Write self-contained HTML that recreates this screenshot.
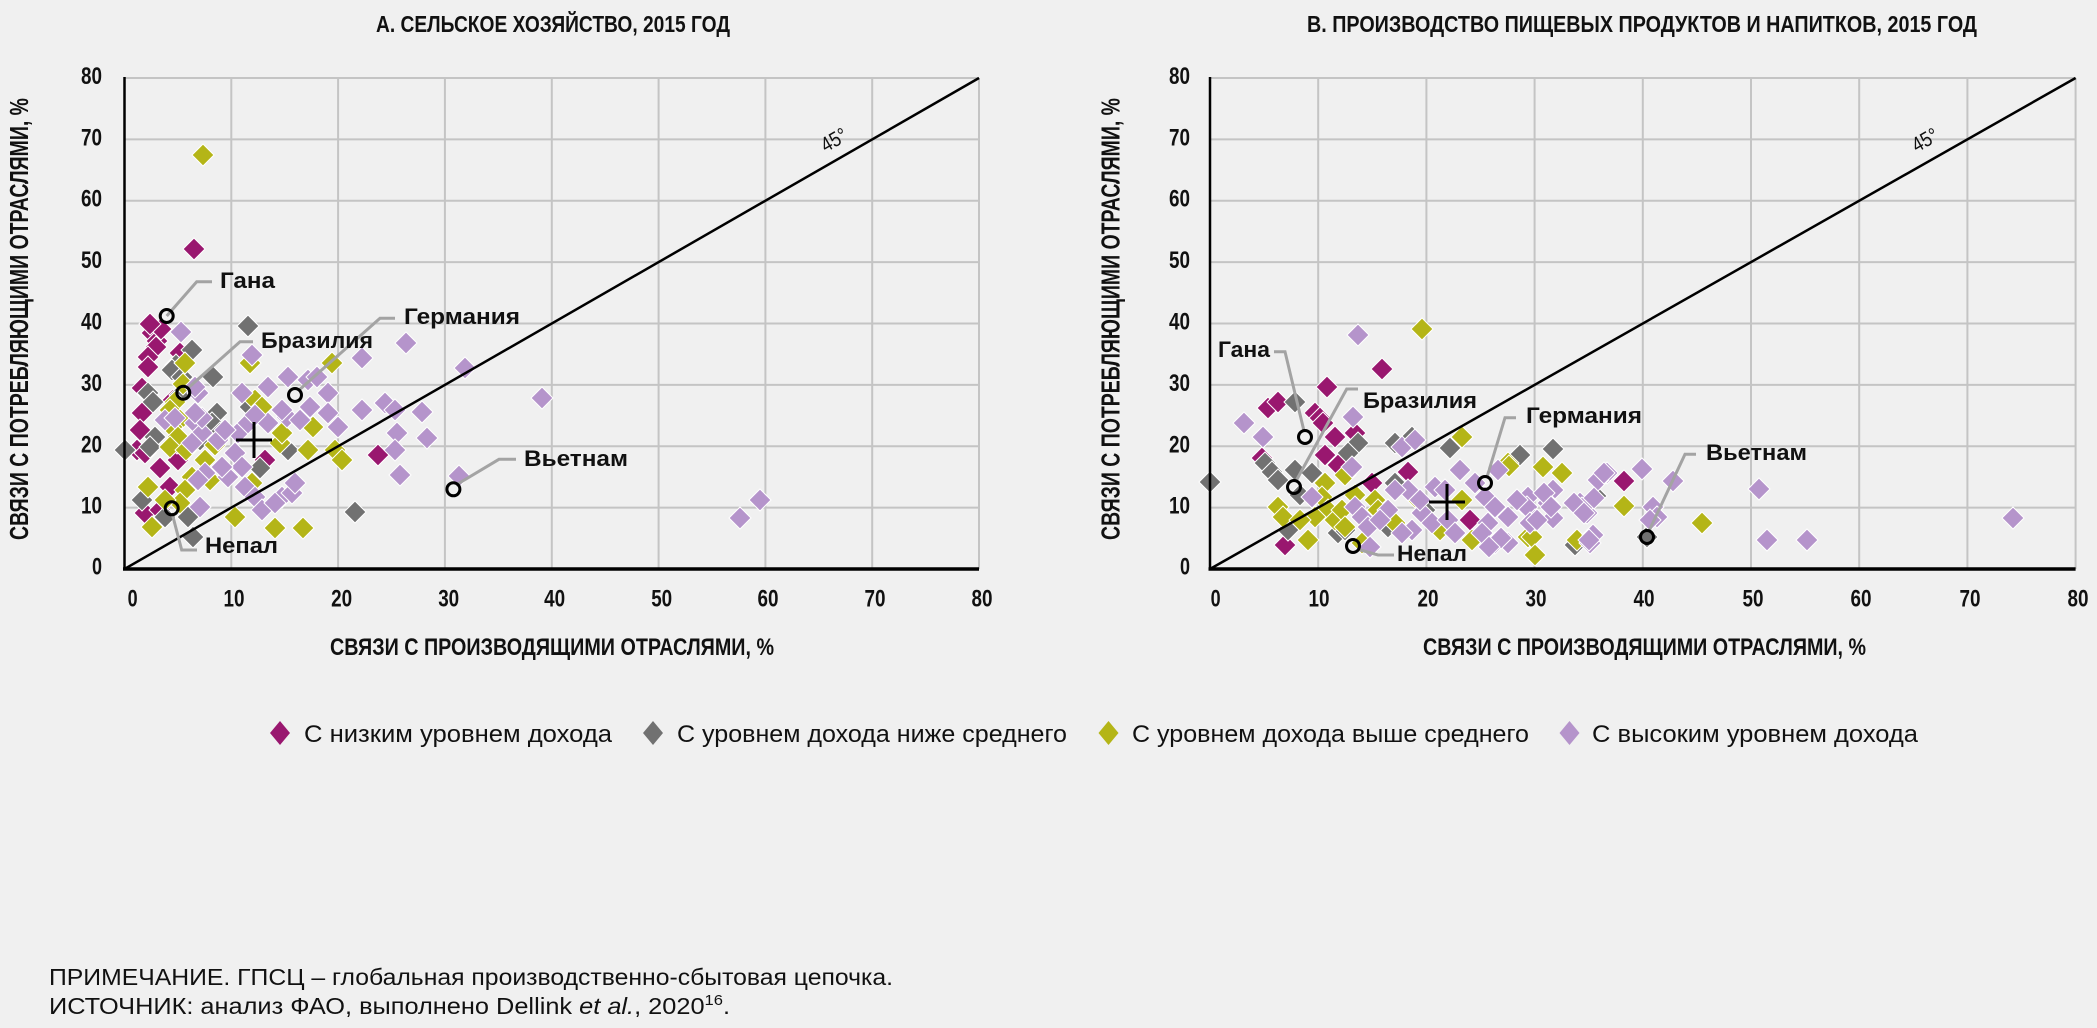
<!DOCTYPE html>
<html><head><meta charset="utf-8"><style>
html,body{margin:0;padding:0;background:#f0f0f0;}
svg{display:block;}
text{font-family:"Liberation Sans","DejaVu Sans",sans-serif;fill:#111;}
.t{font-weight:bold;font-size:23px;}
.tk{font-size:24px;font-weight:bold;}
.ax{font-weight:bold;font-size:24px;}
.ay{font-weight:bold;font-size:26px;}
.lb{font-weight:bold;font-size:22px;}
.lg{font-size:24px;}
.fn{font-size:23px;}
.M path{fill:#99176f;stroke:#fff;stroke-width:1}
.G path{fill:#717171;stroke:#fff;stroke-width:1}
.O path{fill:#b4b517;stroke:#fff;stroke-width:1}
.L path{fill:#b594cb;stroke:#fff;stroke-width:1}
.grid line{stroke:#c4c4c4;stroke-width:2}
.lead{fill:none;stroke:#a3a3a3;stroke-width:3}
.circ{fill:none;stroke:#000;stroke-width:3}
</style></head><body>
<svg width="2097" height="1028" viewBox="0 0 2097 1028" xmlns="http://www.w3.org/2000/svg">
<rect width="2097" height="1028" fill="#f0f0f0"/>

<!-- Titles -->
<text class="t" x="376" y="32" textLength="354" lengthAdjust="spacingAndGlyphs">А. СЕЛЬСКОЕ ХОЗЯЙСТВО, 2015 ГОД</text>
<text class="t" x="1307" y="32" textLength="670" lengthAdjust="spacingAndGlyphs">В. ПРОИЗВОДСТВО ПИЩЕВЫХ ПРОДУКТОВ И НАПИТКОВ, 2015 ГОД</text>

<!-- LEFT GRID -->
<g class="grid">
<line x1="124.5" y1="78" x2="979" y2="78"/><line x1="124.5" y1="139.4" x2="979" y2="139.4"/><line x1="124.5" y1="200.75" x2="979" y2="200.75"/><line x1="124.5" y1="262.1" x2="979" y2="262.1"/><line x1="124.5" y1="323.5" x2="979" y2="323.5"/><line x1="124.5" y1="384.9" x2="979" y2="384.9"/><line x1="124.5" y1="446.25" x2="979" y2="446.25"/><line x1="124.5" y1="507.6" x2="979" y2="507.6"/>
<line x1="231.3" y1="78" x2="231.3" y2="569"/><line x1="338.1" y1="78" x2="338.1" y2="569"/><line x1="444.9" y1="78" x2="444.9" y2="569"/><line x1="551.8" y1="78" x2="551.8" y2="569"/><line x1="658.6" y1="78" x2="658.6" y2="569"/><line x1="765.4" y1="78" x2="765.4" y2="569"/><line x1="872.2" y1="78" x2="872.2" y2="569"/><line x1="979" y1="78" x2="979" y2="569"/>
</g>
<!-- RIGHT GRID -->
<g class="grid">
<line x1="1210" y1="78" x2="2075.6" y2="78"/><line x1="1210" y1="139.4" x2="2075.6" y2="139.4"/><line x1="1210" y1="200.75" x2="2075.6" y2="200.75"/><line x1="1210" y1="262.1" x2="2075.6" y2="262.1"/><line x1="1210" y1="323.5" x2="2075.6" y2="323.5"/><line x1="1210" y1="384.9" x2="2075.6" y2="384.9"/><line x1="1210" y1="446.25" x2="2075.6" y2="446.25"/><line x1="1210" y1="507.6" x2="2075.6" y2="507.6"/>
<line x1="1318.2" y1="78" x2="1318.2" y2="569"/><line x1="1426.4" y1="78" x2="1426.4" y2="569"/><line x1="1534.6" y1="78" x2="1534.6" y2="569"/><line x1="1642.8" y1="78" x2="1642.8" y2="569"/><line x1="1751" y1="78" x2="1751" y2="569"/><line x1="1859.2" y1="78" x2="1859.2" y2="569"/><line x1="1967.4" y1="78" x2="1967.4" y2="569"/><line x1="2075.6" y1="78" x2="2075.6" y2="569"/>
</g>

<!-- LEFT POINTS -->
<g class="M">
<path d="M194 249m0-11l11 11-11 11-11-11z"/><path d="M152 333m0-11l11 11-11 11-11-11z"/><path d="M157 341m0-11l11 11-11 11-11-11z"/><path d="M161 329m0-11l11 11-11 11-11-11z"/><path d="M150 324m0-11l11 11-11 11-11-11z"/><path d="M156 347m0-11l11 11-11 11-11-11z"/><path d="M148 357m0-11l11 11-11 11-11-11z"/><path d="M148 367m0-11l11 11-11 11-11-11z"/><path d="M180 353m0-11l11 11-11 11-11-11z"/><path d="M142 388m0-11l11 11-11 11-11-11z"/><path d="M142 413m0-11l11 11-11 11-11-11z"/><path d="M137 450m0-11l11 11-11 11-11-11z"/><path d="M145 453m0-11l11 11-11 11-11-11z"/><path d="M160 468m0-11l11 11-11 11-11-11z"/><path d="M170 487m0-11l11 11-11 11-11-11z"/><path d="M145 513m0-11l11 11-11 11-11-11z"/><path d="M178 460m0-11l11 11-11 11-11-11z"/><path d="M378 455m0-11l11 11-11 11-11-11z"/><path d="M173 400m0-11l11 11-11 11-11-11z"/><path d="M177 443m0-11l11 11-11 11-11-11z"/><path d="M265 460m0-11l11 11-11 11-11-11z"/><path d="M140 430m0-11l11 11-11 11-11-11z"/><path d="M160 510m0-11l11 11-11 11-11-11z"/>
</g>
<g class="G">
<path d="M248 326m0-11l11 11-11 11-11-11z"/><path d="M192 350m0-11l11 11-11 11-11-11z"/><path d="M176 365m0-11l11 11-11 11-11-11z"/><path d="M172 370m0-11l11 11-11 11-11-11z"/><path d="M182 377m0-11l11 11-11 11-11-11z"/><path d="M213 377m0-11l11 11-11 11-11-11z"/><path d="M148 393m0-11l11 11-11 11-11-11z"/><path d="M153 402m0-11l11 11-11 11-11-11z"/><path d="M217 413m0-11l11 11-11 11-11-11z"/><path d="M212 423m0-11l11 11-11 11-11-11z"/><path d="M220 433m0-11l11 11-11 11-11-11z"/><path d="M155 437m0-11l11 11-11 11-11-11z"/><path d="M150 447m0-11l11 11-11 11-11-11z"/><path d="M125 450m0-11l11 11-11 11-11-11z"/><path d="M260 468m0-11l11 11-11 11-11-11z"/><path d="M288 450m0-11l11 11-11 11-11-11z"/><path d="M142 500m0-11l11 11-11 11-11-11z"/><path d="M165 517m0-11l11 11-11 11-11-11z"/><path d="M188 517m0-11l11 11-11 11-11-11z"/><path d="M193 537m0-11l11 11-11 11-11-11z"/><path d="M355 512m0-11l11 11-11 11-11-11z"/><path d="M180 395m0-11l11 11-11 11-11-11z"/><path d="M200 440m0-11l11 11-11 11-11-11z"/><path d="M165 420m0-11l11 11-11 11-11-11z"/><path d="M250 407m0-11l11 11-11 11-11-11z"/>
</g>
<g class="O">
<path d="M203 155m0-11l11 11-11 11-11-11z"/><path d="M185 363m0-11l11 11-11 11-11-11z"/><path d="M183 384m0-11l11 11-11 11-11-11z"/><path d="M250 363m0-11l11 11-11 11-11-11z"/><path d="M332 363m0-11l11 11-11 11-11-11z"/><path d="M175 402m0-11l11 11-11 11-11-11z"/><path d="M170 410m0-11l11 11-11 11-11-11z"/><path d="M180 420m0-11l11 11-11 11-11-11z"/><path d="M172 427m0-11l11 11-11 11-11-11z"/><path d="M178 437m0-11l11 11-11 11-11-11z"/><path d="M170 447m0-11l11 11-11 11-11-11z"/><path d="M186 450m0-11l11 11-11 11-11-11z"/><path d="M205 460m0-11l11 11-11 11-11-11z"/><path d="M192 477m0-11l11 11-11 11-11-11z"/><path d="M148 487m0-11l11 11-11 11-11-11z"/><path d="M152 527m0-11l11 11-11 11-11-11z"/><path d="M185 490m0-11l11 11-11 11-11-11z"/><path d="M180 503m0-11l11 11-11 11-11-11z"/><path d="M165 500m0-11l11 11-11 11-11-11z"/><path d="M235 517m0-11l11 11-11 11-11-11z"/><path d="M275 528m0-11l11 11-11 11-11-11z"/><path d="M303 528m0-11l11 11-11 11-11-11z"/><path d="M308 450m0-11l11 11-11 11-11-11z"/><path d="M313 427m0-11l11 11-11 11-11-11z"/><path d="M335 450m0-11l11 11-11 11-11-11z"/><path d="M342 460m0-11l11 11-11 11-11-11z"/><path d="M280 443m0-11l11 11-11 11-11-11z"/><path d="M282 433m0-11l11 11-11 11-11-11z"/><path d="M255 400m0-11l11 11-11 11-11-11z"/><path d="M262 407m0-11l11 11-11 11-11-11z"/><path d="M252 483m0-11l11 11-11 11-11-11z"/><path d="M210 480m0-11l11 11-11 11-11-11z"/><path d="M215 445m0-11l11 11-11 11-11-11z"/>
</g>
<g class="L">
<path d="M181 332m0-11l11 11-11 11-11-11z"/><path d="M252 355m0-11l11 11-11 11-11-11z"/><path d="M362 358m0-11l11 11-11 11-11-11z"/><path d="M406 343m0-11l11 11-11 11-11-11z"/><path d="M465 368m0-11l11 11-11 11-11-11z"/><path d="M542 398m0-11l11 11-11 11-11-11z"/><path d="M242 393m0-11l11 11-11 11-11-11z"/><path d="M268 387m0-11l11 11-11 11-11-11z"/><path d="M288 377m0-11l11 11-11 11-11-11z"/><path d="M308 380m0-11l11 11-11 11-11-11z"/><path d="M328 393m0-11l11 11-11 11-11-11z"/><path d="M317 377m0-11l11 11-11 11-11-11z"/><path d="M362 410m0-11l11 11-11 11-11-11z"/><path d="M385 403m0-11l11 11-11 11-11-11z"/><path d="M395 410m0-11l11 11-11 11-11-11z"/><path d="M422 412m0-11l11 11-11 11-11-11z"/><path d="M397 433m0-11l11 11-11 11-11-11z"/><path d="M427 438m0-11l11 11-11 11-11-11z"/><path d="M395 450m0-11l11 11-11 11-11-11z"/><path d="M400 475m0-11l11 11-11 11-11-11z"/><path d="M459 476m0-11l11 11-11 11-11-11z"/><path d="M740 518m0-11l11 11-11 11-11-11z"/><path d="M760 500m0-11l11 11-11 11-11-11z"/><path d="M328 413m0-11l11 11-11 11-11-11z"/><path d="M338 427m0-11l11 11-11 11-11-11z"/><path d="M238 433m0-11l11 11-11 11-11-11z"/><path d="M248 423m0-11l11 11-11 11-11-11z"/><path d="M268 423m0-11l11 11-11 11-11-11z"/><path d="M255 415m0-11l11 11-11 11-11-11z"/><path d="M235 453m0-11l11 11-11 11-11-11z"/><path d="M242 467m0-11l11 11-11 11-11-11z"/><path d="M228 477m0-11l11 11-11 11-11-11z"/><path d="M222 467m0-11l11 11-11 11-11-11z"/><path d="M205 473m0-11l11 11-11 11-11-11z"/><path d="M198 480m0-11l11 11-11 11-11-11z"/><path d="M245 487m0-11l11 11-11 11-11-11z"/><path d="M255 497m0-11l11 11-11 11-11-11z"/><path d="M262 510m0-11l11 11-11 11-11-11z"/><path d="M282 497m0-11l11 11-11 11-11-11z"/><path d="M292 493m0-11l11 11-11 11-11-11z"/><path d="M275 503m0-11l11 11-11 11-11-11z"/><path d="M295 483m0-11l11 11-11 11-11-11z"/><path d="M195 423m0-11l11 11-11 11-11-11z"/><path d="M202 433m0-11l11 11-11 11-11-11z"/><path d="M192 443m0-11l11 11-11 11-11-11z"/><path d="M202 418m0-11l11 11-11 11-11-11z"/><path d="M195 413m0-11l11 11-11 11-11-11z"/><path d="M165 420m0-11l11 11-11 11-11-11z"/><path d="M175 418m0-11l11 11-11 11-11-11z"/><path d="M198 393m0-11l11 11-11 11-11-11z"/><path d="M200 507m0-11l11 11-11 11-11-11z"/><path d="M195 387m0-11l11 11-11 11-11-11z"/><path d="M218 440m0-11l11 11-11 11-11-11z"/><path d="M225 430m0-11l11 11-11 11-11-11z"/><path d="M287 417m0-11l11 11-11 11-11-11z"/><path d="M300 420m0-11l11 11-11 11-11-11z"/><path d="M310 407m0-11l11 11-11 11-11-11z"/><path d="M282 410m0-11l11 11-11 11-11-11z"/>
</g>

<!-- RIGHT POINTS -->
<g class="M">
<path d="M1382 369m0-11l11 11-11 11-11-11z"/><path d="M1327 387m0-11l11 11-11 11-11-11z"/><path d="M1268 408m0-11l11 11-11 11-11-11z"/><path d="M1278 402m0-11l11 11-11 11-11-11z"/><path d="M1315 413m0-11l11 11-11 11-11-11z"/><path d="M1320 418m0-11l11 11-11 11-11-11z"/><path d="M1323 423m0-11l11 11-11 11-11-11z"/><path d="M1335 437m0-11l11 11-11 11-11-11z"/><path d="M1355 433m0-11l11 11-11 11-11-11z"/><path d="M1325 455m0-11l11 11-11 11-11-11z"/><path d="M1338 465m0-11l11 11-11 11-11-11z"/><path d="M1372 483m0-11l11 11-11 11-11-11z"/><path d="M1285 545m0-11l11 11-11 11-11-11z"/><path d="M1408 472m0-11l11 11-11 11-11-11z"/><path d="M1262 458m0-11l11 11-11 11-11-11z"/><path d="M1624 481m0-11l11 11-11 11-11-11z"/><path d="M1470 520m0-11l11 11-11 11-11-11z"/>
</g>
<g class="G">
<path d="M1295 402m0-11l11 11-11 11-11-11z"/><path d="M1210 482m0-11l11 11-11 11-11-11z"/><path d="M1265 463m0-11l11 11-11 11-11-11z"/><path d="M1272 472m0-11l11 11-11 11-11-11z"/><path d="M1278 480m0-11l11 11-11 11-11-11z"/><path d="M1295 470m0-11l11 11-11 11-11-11z"/><path d="M1312 473m0-11l11 11-11 11-11-11z"/><path d="M1358 443m0-11l11 11-11 11-11-11z"/><path d="M1348 453m0-11l11 11-11 11-11-11z"/><path d="M1395 443m0-11l11 11-11 11-11-11z"/><path d="M1412 437m0-11l11 11-11 11-11-11z"/><path d="M1450 448m0-11l11 11-11 11-11-11z"/><path d="M1520 455m0-11l11 11-11 11-11-11z"/><path d="M1553 449m0-11l11 11-11 11-11-11z"/><path d="M1288 530m0-11l11 11-11 11-11-11z"/><path d="M1338 533m0-11l11 11-11 11-11-11z"/><path d="M1345 530m0-11l11 11-11 11-11-11z"/><path d="M1388 527m0-11l11 11-11 11-11-11z"/><path d="M1425 510m0-11l11 11-11 11-11-11z"/><path d="M1395 483m0-11l11 11-11 11-11-11z"/><path d="M1596 496m0-11l11 11-11 11-11-11z"/><path d="M1647 537m0-11l11 11-11 11-11-11z"/><path d="M1575 545m0-11l11 11-11 11-11-11z"/><path d="M1300 495m0-11l11 11-11 11-11-11z"/>
</g>
<g class="O">
<path d="M1422 329m0-11l11 11-11 11-11-11z"/><path d="M1462 437m0-11l11 11-11 11-11-11z"/><path d="M1508 463m0-11l11 11-11 11-11-11z"/><path d="M1325 483m0-11l11 11-11 11-11-11z"/><path d="M1322 497m0-11l11 11-11 11-11-11z"/><path d="M1328 510m0-11l11 11-11 11-11-11z"/><path d="M1278 507m0-11l11 11-11 11-11-11z"/><path d="M1283 517m0-11l11 11-11 11-11-11z"/><path d="M1315 517m0-11l11 11-11 11-11-11z"/><path d="M1335 520m0-11l11 11-11 11-11-11z"/><path d="M1342 510m0-11l11 11-11 11-11-11z"/><path d="M1345 527m0-11l11 11-11 11-11-11z"/><path d="M1345 475m0-11l11 11-11 11-11-11z"/><path d="M1375 500m0-11l11 11-11 11-11-11z"/><path d="M1378 510m0-11l11 11-11 11-11-11z"/><path d="M1415 497m0-11l11 11-11 11-11-11z"/><path d="M1308 540m0-11l11 11-11 11-11-11z"/><path d="M1362 543m0-11l11 11-11 11-11-11z"/><path d="M1395 523m0-11l11 11-11 11-11-11z"/><path d="M1462 500m0-11l11 11-11 11-11-11z"/><path d="M1472 540m0-11l11 11-11 11-11-11z"/><path d="M1528 537m0-11l11 11-11 11-11-11z"/><path d="M1543 467m0-11l11 11-11 11-11-11z"/><path d="M1562 473m0-11l11 11-11 11-11-11z"/><path d="M1509 466m0-11l11 11-11 11-11-11z"/><path d="M1624 506m0-11l11 11-11 11-11-11z"/><path d="M1702 523m0-11l11 11-11 11-11-11z"/><path d="M1577 540m0-11l11 11-11 11-11-11z"/><path d="M1532 537m0-11l11 11-11 11-11-11z"/><path d="M1535 555m0-11l11 11-11 11-11-11z"/><path d="M1300 520m0-11l11 11-11 11-11-11z"/><path d="M1355 495m0-11l11 11-11 11-11-11z"/><path d="M1440 530m0-11l11 11-11 11-11-11z"/>
</g>
<g class="L">
<path d="M1358 335m0-11l11 11-11 11-11-11z"/><path d="M1244 423m0-11l11 11-11 11-11-11z"/><path d="M1263 437m0-11l11 11-11 11-11-11z"/><path d="M1353 417m0-11l11 11-11 11-11-11z"/><path d="M1352 467m0-11l11 11-11 11-11-11z"/><path d="M1312 497m0-11l11 11-11 11-11-11z"/><path d="M1402 447m0-11l11 11-11 11-11-11z"/><path d="M1415 440m0-11l11 11-11 11-11-11z"/><path d="M1408 490m0-11l11 11-11 11-11-11z"/><path d="M1395 490m0-11l11 11-11 11-11-11z"/><path d="M1435 487m0-11l11 11-11 11-11-11z"/><path d="M1422 513m0-11l11 11-11 11-11-11z"/><path d="M1432 523m0-11l11 11-11 11-11-11z"/><path d="M1412 530m0-11l11 11-11 11-11-11z"/><path d="M1402 533m0-11l11 11-11 11-11-11z"/><path d="M1355 507m0-11l11 11-11 11-11-11z"/><path d="M1362 517m0-11l11 11-11 11-11-11z"/><path d="M1368 527m0-11l11 11-11 11-11-11z"/><path d="M1388 510m0-11l11 11-11 11-11-11z"/><path d="M1448 520m0-11l11 11-11 11-11-11z"/><path d="M1455 533m0-11l11 11-11 11-11-11z"/><path d="M1475 483m0-11l11 11-11 11-11-11z"/><path d="M1485 497m0-11l11 11-11 11-11-11z"/><path d="M1495 507m0-11l11 11-11 11-11-11z"/><path d="M1508 517m0-11l11 11-11 11-11-11z"/><path d="M1488 523m0-11l11 11-11 11-11-11z"/><path d="M1482 533m0-11l11 11-11 11-11-11z"/><path d="M1495 543m0-11l11 11-11 11-11-11z"/><path d="M1508 543m0-11l11 11-11 11-11-11z"/><path d="M1522 503m0-11l11 11-11 11-11-11z"/><path d="M1528 497m0-11l11 11-11 11-11-11z"/><path d="M1498 470m0-11l11 11-11 11-11-11z"/><path d="M1370 547m0-11l11 11-11 11-11-11z"/><path d="M1607 473m0-11l11 11-11 11-11-11z"/><path d="M1598 480m0-11l11 11-11 11-11-11z"/><path d="M1642 469m0-11l11 11-11 11-11-11z"/><path d="M1673 481m0-11l11 11-11 11-11-11z"/><path d="M1759 489m0-11l11 11-11 11-11-11z"/><path d="M1553 490m0-11l11 11-11 11-11-11z"/><path d="M1548 503m0-11l11 11-11 11-11-11z"/><path d="M1553 518m0-11l11 11-11 11-11-11z"/><path d="M1527 507m0-11l11 11-11 11-11-11z"/><path d="M1535 520m0-11l11 11-11 11-11-11z"/><path d="M1530 523m0-11l11 11-11 11-11-11z"/><path d="M1580 503m0-11l11 11-11 11-11-11z"/><path d="M1587 513m0-11l11 11-11 11-11-11z"/><path d="M1582 508m0-11l11 11-11 11-11-11z"/><path d="M1653 507m0-11l11 11-11 11-11-11z"/><path d="M1657 517m0-11l11 11-11 11-11-11z"/><path d="M1650 520m0-11l11 11-11 11-11-11z"/><path d="M1593 535m0-11l11 11-11 11-11-11z"/><path d="M1590 543m0-11l11 11-11 11-11-11z"/><path d="M1767 540m0-11l11 11-11 11-11-11z"/><path d="M1807 540m0-11l11 11-11 11-11-11z"/><path d="M2013 518m0-11l11 11-11 11-11-11z"/><path d="M1517 500m0-11l11 11-11 11-11-11z"/><path d="M1544 493m0-11l11 11-11 11-11-11z"/><path d="M1551 507m0-11l11 11-11 11-11-11z"/><path d="M1537 520m0-11l11 11-11 11-11-11z"/><path d="M1574 503m0-11l11 11-11 11-11-11z"/><path d="M1584 513m0-11l11 11-11 11-11-11z"/><path d="M1594 498m0-11l11 11-11 11-11-11z"/><path d="M1604 473m0-11l11 11-11 11-11-11z"/><path d="M1589 540m0-11l11 11-11 11-11-11z"/><path d="M1501 538m0-11l11 11-11 11-11-11z"/><path d="M1489 547m0-11l11 11-11 11-11-11z"/><path d="M1380 520m0-11l11 11-11 11-11-11z"/><path d="M1420 500m0-11l11 11-11 11-11-11z"/><path d="M1460 470m0-11l11 11-11 11-11-11z"/><path d="M1445 490m0-11l11 11-11 11-11-11z"/>
</g>

<!-- 45 degree lines -->
<line x1="124.5" y1="569" x2="979" y2="78" stroke="#000" stroke-width="2.5"/>
<line x1="1210" y1="569" x2="2075.6" y2="78" stroke="#000" stroke-width="2.5"/>
<text x="0" y="0" font-size="21" transform="translate(834 140) rotate(-29.9)" text-anchor="middle" dy="7" textLength="27" lengthAdjust="spacingAndGlyphs">45°</text>
<text x="0" y="0" font-size="21" transform="translate(1925 140) rotate(-29.6)" text-anchor="middle" dy="7" textLength="27" lengthAdjust="spacingAndGlyphs">45°</text>

<!-- Axes -->
<line x1="124.5" y1="77" x2="124.5" y2="570" stroke="#000" stroke-width="2.5"/>
<line x1="123" y1="569" x2="979" y2="569" stroke="#000" stroke-width="3.5"/>
<line x1="1210" y1="77" x2="1210" y2="570" stroke="#000" stroke-width="2.5"/>
<line x1="1208.5" y1="569" x2="2075.6" y2="569" stroke="#000" stroke-width="3.5"/>

<!-- Leader lines -->
<polyline class="lead" points="166.7,316 196.7,281.7 212,281.7"/>
<polyline class="lead" points="187,389 240,341.7 253,341.7"/>
<polyline class="lead" points="298,391 380,318.3 395,318.3"/>
<polyline class="lead" points="172,513 181.7,550 197,550"/>
<polyline class="lead" points="456,485 499,459.3 516,459.3"/>
<polyline class="lead" points="1274,351.7 1285,351.7 1304,431"/>
<polyline class="lead" points="1358,389 1346.7,389 1296,481"/>
<polyline class="lead" points="1516,417.7 1505,417.7 1487,477"/>
<polyline class="lead" points="1357,549 1378,555 1394,555"/>
<polyline class="lead" points="1696,454.3 1685,454.3 1649,531"/>

<!-- Circles -->
<circle class="circ" cx="166.7" cy="316" r="6.5"/>
<circle class="circ" cx="183.3" cy="392.7" r="6.5"/>
<circle class="circ" cx="295" cy="395" r="6.5"/>
<circle class="circ" cx="171.7" cy="508.3" r="6.5"/>
<circle class="circ" cx="453.4" cy="489.3" r="6.5"/>
<circle class="circ" cx="1305" cy="437" r="6.5"/>
<circle class="circ" cx="1294" cy="487" r="6.5"/>
<circle class="circ" cx="1485" cy="483" r="6.5"/>
<circle class="circ" cx="1353" cy="546" r="6.5"/>
<circle class="circ" cx="1647" cy="537" r="6.5"/>

<!-- Crosses -->
<path d="M236 440h36M254 422v36" stroke="#000" stroke-width="3"/>
<path d="M1429 502h36M1447 484v36" stroke="#000" stroke-width="3"/>

<!-- Country labels -->
<text class="lb" x="220" y="288" textLength="55" lengthAdjust="spacingAndGlyphs">Гана</text>
<text class="lb" x="261" y="348" textLength="112" lengthAdjust="spacingAndGlyphs">Бразилия</text>
<text class="lb" x="404" y="324" textLength="116" lengthAdjust="spacingAndGlyphs">Германия</text>
<text class="lb" x="205" y="553" textLength="73" lengthAdjust="spacingAndGlyphs">Непал</text>
<text class="lb" x="524" y="466" textLength="104" lengthAdjust="spacingAndGlyphs">Вьетнам</text>
<text class="lb" x="1218" y="357" textLength="52" lengthAdjust="spacingAndGlyphs">Гана</text>
<text class="lb" x="1363" y="408" textLength="114" lengthAdjust="spacingAndGlyphs">Бразилия</text>
<text class="lb" x="1526" y="423" textLength="116" lengthAdjust="spacingAndGlyphs">Германия</text>
<text class="lb" x="1397" y="561" textLength="70" lengthAdjust="spacingAndGlyphs">Непал</text>
<text class="lb" x="1706" y="460" textLength="101" lengthAdjust="spacingAndGlyphs">Вьетнам</text>

<!-- Y tick labels -->
<g class="tk" text-anchor="end">
<text x="102" y="84" textLength="21" lengthAdjust="spacingAndGlyphs">80</text>
<text x="102" y="145.5" textLength="21" lengthAdjust="spacingAndGlyphs">70</text>
<text x="102" y="206.5" textLength="21" lengthAdjust="spacingAndGlyphs">60</text>
<text x="102" y="268" textLength="21" lengthAdjust="spacingAndGlyphs">50</text>
<text x="102" y="329.5" textLength="21" lengthAdjust="spacingAndGlyphs">40</text>
<text x="102" y="391" textLength="21" lengthAdjust="spacingAndGlyphs">30</text>
<text x="102" y="452.5" textLength="21" lengthAdjust="spacingAndGlyphs">20</text>
<text x="102" y="513.5" textLength="21" lengthAdjust="spacingAndGlyphs">10</text>
<text x="102" y="574.5" textLength="10" lengthAdjust="spacingAndGlyphs">0</text>
<text x="1190" y="84" textLength="21" lengthAdjust="spacingAndGlyphs">80</text>
<text x="1190" y="145.5" textLength="21" lengthAdjust="spacingAndGlyphs">70</text>
<text x="1190" y="206.5" textLength="21" lengthAdjust="spacingAndGlyphs">60</text>
<text x="1190" y="268" textLength="21" lengthAdjust="spacingAndGlyphs">50</text>
<text x="1190" y="329.5" textLength="21" lengthAdjust="spacingAndGlyphs">40</text>
<text x="1190" y="391" textLength="21" lengthAdjust="spacingAndGlyphs">30</text>
<text x="1190" y="452.5" textLength="21" lengthAdjust="spacingAndGlyphs">20</text>
<text x="1190" y="513.5" textLength="21" lengthAdjust="spacingAndGlyphs">10</text>
<text x="1190" y="574.5" textLength="10" lengthAdjust="spacingAndGlyphs">0</text>
</g>
<!-- X tick labels -->
<g class="tk" text-anchor="middle">
<text x="132.6" y="606.5" textLength="10" lengthAdjust="spacingAndGlyphs">0</text>
<text x="234" y="606.5" textLength="21" lengthAdjust="spacingAndGlyphs">10</text>
<text x="341.6" y="606.5" textLength="21" lengthAdjust="spacingAndGlyphs">20</text>
<text x="448.7" y="606.5" textLength="21" lengthAdjust="spacingAndGlyphs">30</text>
<text x="554.6" y="606.5" textLength="21" lengthAdjust="spacingAndGlyphs">40</text>
<text x="661.7" y="606.5" textLength="21" lengthAdjust="spacingAndGlyphs">50</text>
<text x="768" y="606.5" textLength="21" lengthAdjust="spacingAndGlyphs">60</text>
<text x="875" y="606.5" textLength="21" lengthAdjust="spacingAndGlyphs">70</text>
<text x="982" y="606.5" textLength="21" lengthAdjust="spacingAndGlyphs">80</text>
<text x="1215.6" y="606.5" textLength="10" lengthAdjust="spacingAndGlyphs">0</text>
<text x="1319" y="606.5" textLength="21" lengthAdjust="spacingAndGlyphs">10</text>
<text x="1428" y="606.5" textLength="21" lengthAdjust="spacingAndGlyphs">20</text>
<text x="1536" y="606.5" textLength="21" lengthAdjust="spacingAndGlyphs">30</text>
<text x="1644" y="606.5" textLength="21" lengthAdjust="spacingAndGlyphs">40</text>
<text x="1753" y="606.5" textLength="21" lengthAdjust="spacingAndGlyphs">50</text>
<text x="1861" y="606.5" textLength="21" lengthAdjust="spacingAndGlyphs">60</text>
<text x="1970" y="606.5" textLength="21" lengthAdjust="spacingAndGlyphs">70</text>
<text x="2078" y="606.5" textLength="21" lengthAdjust="spacingAndGlyphs">80</text>
</g>

<!-- Axis titles -->
<text class="ax" x="330" y="655" textLength="444" lengthAdjust="spacingAndGlyphs">СВЯЗИ С ПРОИЗВОДЯЩИМИ ОТРАСЛЯМИ, %</text>
<text class="ax" x="1423" y="655" textLength="443" lengthAdjust="spacingAndGlyphs">СВЯЗИ С ПРОИЗВОДЯЩИМИ ОТРАСЛЯМИ, %</text>
<text class="ay" x="0" y="0" transform="translate(28 319) rotate(-90)" text-anchor="middle" textLength="442" lengthAdjust="spacingAndGlyphs">СВЯЗИ С ПОТРЕБЛЯЮЩИМИ ОТРАСЛЯМИ, %</text>
<text class="ay" x="0" y="0" transform="translate(1119.5 319) rotate(-90)" text-anchor="middle" textLength="442" lengthAdjust="spacingAndGlyphs">СВЯЗИ С ПОТРЕБЛЯЮЩИМИ ОТРАСЛЯМИ, %</text>

<!-- Legend -->
<path d="M280 721l10 12-10 12-10-12z" fill="#99176f"/>
<text class="lg" x="304" y="742" textLength="308" lengthAdjust="spacingAndGlyphs">С низким уровнем дохода</text>
<path d="M653 721l10 12-10 12-10-12z" fill="#717171"/>
<text class="lg" x="677" y="742" textLength="390" lengthAdjust="spacingAndGlyphs">С уровнем дохода ниже среднего</text>
<path d="M1108.5 721l10 12-10 12-10-12z" fill="#b4b517"/>
<text class="lg" x="1132" y="742" textLength="397" lengthAdjust="spacingAndGlyphs">С уровнем дохода выше среднего</text>
<path d="M1569.5 721l10 12-10 12-10-12z" fill="#b594cb"/>
<text class="lg" x="1592" y="742" textLength="326" lengthAdjust="spacingAndGlyphs">С высоким уровнем дохода</text>

<!-- Footnotes -->
<text class="fn" x="49" y="985" textLength="844" lengthAdjust="spacingAndGlyphs">ПРИМЕЧАНИЕ. ГПСЦ – глобальная производственно-сбытовая цепочка.</text>
<text class="fn" x="49" y="1014" textLength="681" lengthAdjust="spacingAndGlyphs">ИСТОЧНИК: анализ ФАО, выполнено Dellink <tspan font-style="italic">et al.</tspan>, 2020<tspan font-size="15" dy="-9">16</tspan><tspan dy="9">.</tspan></text>
</svg>
</body></html>
